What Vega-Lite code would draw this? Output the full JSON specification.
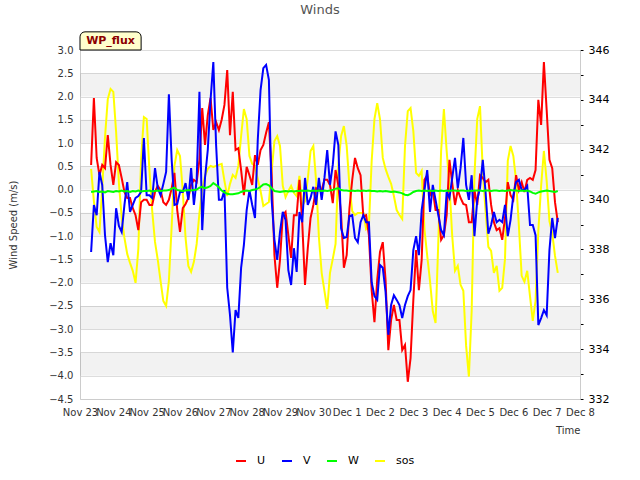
{
  "$schema": "https://vega.github.io/schema/vega-lite/v6.json",
  "width": 500,
  "height": 349,
  "autosize": {"type": "none"},
  "padding": {"left": 80, "top": 50, "right": 60, "bottom": 81},
  "title": {"text": "Winds", "anchor": "middle", "frame": "group", "dx": -10, "offset": 14, "fontSize": 13, "fontWeight": "normal", "color": "#555555", "font": "DejaVu Sans"},
  "config": {
    "view": {"stroke": null},
    "font": "DejaVu Sans",
    "axis": {"labelFont": "DejaVu Sans", "titleFont": "DejaVu Sans", "labelFontSize": 10, "titleFontSize": 10, "labelColor": "#333333", "titleColor": "#333333", "domainColor": "#cccccc", "gridColor": "#dddddd", "titleFontWeight": "normal"},
    "axisX": {"tickCount": {"interval": "day", "step": 1}, "format": "%b %-d", "ticks": false, "grid": false, "labelFlush": false, "labelOverlap": false, "labelPadding": 8, "titleAlign": "right", "titleX": 500, "titleY": 26, "titleBaseline": "top"}
  },
  "datasets": {
    "winds": [
      {"t": "2023-11-23T08:00", "U": 0.53, "V": -1.34, "W": -0.05, "sos": 341.23},
      {"t": "2023-11-23T10:00", "U": 1.97, "V": -0.33, "W": -0.04, "sos": 339.94},
      {"t": "2023-11-23T12:00", "U": 0.68, "V": -0.55, "W": -0.03, "sos": 338.90},
      {"t": "2023-11-23T14:00", "U": 0.31, "V": 0.38, "W": -0.05, "sos": 338.70},
      {"t": "2023-11-23T16:00", "U": 0.53, "V": 0.10, "W": -0.04, "sos": 340.47},
      {"t": "2023-11-23T18:00", "U": 0.46, "V": -0.98, "W": -0.06, "sos": 342.50},
      {"t": "2023-11-23T20:00", "U": 1.17, "V": -1.56, "W": -0.03, "sos": 344.03},
      {"t": "2023-11-23T22:00", "U": 0.53, "V": -1.15, "W": -0.04, "sos": 344.44},
      {"t": "2023-11-24T00:00", "U": 0.10, "V": -1.41, "W": -0.05, "sos": 344.32},
      {"t": "2023-11-24T02:00", "U": 0.59, "V": -0.40, "W": -0.03, "sos": 342.71},
      {"t": "2023-11-24T04:00", "U": 0.53, "V": -0.78, "W": -0.04, "sos": 340.67},
      {"t": "2023-11-24T06:00", "U": 0.25, "V": -0.91, "W": -0.02, "sos": 339.30},
      {"t": "2023-11-24T08:00", "U": -0.05, "V": -0.33, "W": -0.04, "sos": 338.46},
      {"t": "2023-11-24T10:00", "U": -0.18, "V": 0.16, "W": -0.03, "sos": 337.82},
      {"t": "2023-11-24T12:00", "U": -0.18, "V": -0.48, "W": -0.05, "sos": 337.46},
      {"t": "2023-11-24T14:00", "U": -0.40, "V": -0.33, "W": -0.03, "sos": 337.14},
      {"t": "2023-11-24T16:00", "U": -0.55, "V": -0.18, "W": -0.04, "sos": 336.66},
      {"t": "2023-11-24T18:00", "U": -0.87, "V": -0.14, "W": -0.02, "sos": 338.02},
      {"t": "2023-11-24T20:00", "U": -0.27, "V": -0.05, "W": -0.04, "sos": 341.63},
      {"t": "2023-11-24T22:00", "U": -0.22, "V": 1.11, "W": -0.03, "sos": 343.31},
      {"t": "2023-11-25T00:00", "U": -0.22, "V": -0.12, "W": -0.03, "sos": 343.23},
      {"t": "2023-11-25T02:00", "U": -0.33, "V": -0.12, "W": -0.02, "sos": 341.15},
      {"t": "2023-11-25T04:00", "U": -0.33, "V": -0.18, "W": -0.04, "sos": 339.54},
      {"t": "2023-11-25T06:00", "U": -0.05, "V": 0.46, "W": -0.03, "sos": 338.30},
      {"t": "2023-11-25T08:00", "U": 0.08, "V": 0.03, "W": -0.02, "sos": 337.58},
      {"t": "2023-11-25T10:00", "U": -0.01, "V": -0.12, "W": -0.03, "sos": 336.74},
      {"t": "2023-11-25T12:00", "U": -0.27, "V": 0.12, "W": -0.02, "sos": 335.93},
      {"t": "2023-11-25T14:00", "U": -0.33, "V": 0.38, "W": -0.02, "sos": 335.73},
      {"t": "2023-11-25T16:00", "U": -0.22, "V": 2.05, "W": -0.01, "sos": 336.74},
      {"t": "2023-11-25T18:00", "U": 0.03, "V": 0.64, "W": 0.02, "sos": 338.94},
      {"t": "2023-11-25T20:00", "U": 0.36, "V": -0.33, "W": 0.04, "sos": 341.35},
      {"t": "2023-11-25T22:00", "U": -0.44, "V": -0.31, "W": -0.01, "sos": 341.99},
      {"t": "2023-11-26T00:00", "U": -0.91, "V": -0.05, "W": -0.02, "sos": 341.75},
      {"t": "2023-11-26T02:00", "U": -0.40, "V": -0.05, "W": -0.03, "sos": 340.35},
      {"t": "2023-11-26T04:00", "U": -0.31, "V": 0.14, "W": -0.02, "sos": 338.46},
      {"t": "2023-11-26T06:00", "U": -0.18, "V": -0.22, "W": -0.01, "sos": 337.34},
      {"t": "2023-11-26T08:00", "U": 0.10, "V": 0.46, "W": -0.02, "sos": 337.10},
      {"t": "2023-11-26T10:00", "U": 0.21, "V": -0.33, "W": -0.01, "sos": 337.50},
      {"t": "2023-11-26T12:00", "U": 0.16, "V": 0.21, "W": 0.00, "sos": 338.22},
      {"t": "2023-11-26T14:00", "U": 0.64, "V": 2.10, "W": 0.04, "sos": 339.46},
      {"t": "2023-11-26T16:00", "U": 1.75, "V": -0.87, "W": 0.06, "sos": 340.43},
      {"t": "2023-11-26T18:00", "U": 0.96, "V": 0.25, "W": 0.03, "sos": 340.95},
      {"t": "2023-11-26T20:00", "U": 1.60, "V": 0.85, "W": 0.05, "sos": 341.23},
      {"t": "2023-11-26T22:00", "U": 1.97, "V": 1.93, "W": 0.08, "sos": 341.35},
      {"t": "2023-11-27T00:00", "U": 1.28, "V": 2.74, "W": 0.14, "sos": 341.31},
      {"t": "2023-11-27T02:00", "U": 1.45, "V": 0.96, "W": 0.10, "sos": 341.35},
      {"t": "2023-11-27T04:00", "U": 1.28, "V": -0.22, "W": 0.05, "sos": 341.39},
      {"t": "2023-11-27T06:00", "U": 1.50, "V": -0.22, "W": -0.02, "sos": 341.43},
      {"t": "2023-11-27T08:00", "U": 1.82, "V": -0.01, "W": -0.06, "sos": 340.75},
      {"t": "2023-11-27T10:00", "U": 2.57, "V": -2.11, "W": -0.09, "sos": 340.14},
      {"t": "2023-11-27T12:00", "U": 1.17, "V": -2.70, "W": -0.10, "sos": 340.63},
      {"t": "2023-11-27T14:00", "U": 2.10, "V": -3.50, "W": -0.10, "sos": 340.99},
      {"t": "2023-11-27T16:00", "U": 0.85, "V": -2.59, "W": -0.09, "sos": 340.87},
      {"t": "2023-11-27T18:00", "U": 0.89, "V": -2.76, "W": -0.08, "sos": 341.35},
      {"t": "2023-11-27T20:00", "U": 0.42, "V": -1.68, "W": -0.05, "sos": 342.55},
      {"t": "2023-11-27T22:00", "U": -0.12, "V": -1.19, "W": -0.03, "sos": 343.63},
      {"t": "2023-11-28T00:00", "U": 0.49, "V": -0.44, "W": -0.02, "sos": 343.23},
      {"t": "2023-11-28T02:00", "U": 0.31, "V": -0.01, "W": -0.03, "sos": 341.75},
      {"t": "2023-11-28T04:00", "U": 0.10, "V": -0.33, "W": -0.01, "sos": 341.43},
      {"t": "2023-11-28T06:00", "U": 0.74, "V": -0.61, "W": 0.00, "sos": 341.35},
      {"t": "2023-11-28T08:00", "U": 0.53, "V": 1.07, "W": 0.02, "sos": 340.83},
      {"t": "2023-11-28T10:00", "U": 0.85, "V": 2.14, "W": 0.06, "sos": 340.35},
      {"t": "2023-11-28T12:00", "U": 0.96, "V": 2.61, "W": 0.11, "sos": 339.74},
      {"t": "2023-11-28T14:00", "U": 1.22, "V": 2.68, "W": 0.12, "sos": 339.82},
      {"t": "2023-11-28T16:00", "U": 1.45, "V": 2.36, "W": 0.09, "sos": 339.90},
      {"t": "2023-11-28T18:00", "U": 0.31, "V": -0.22, "W": 0.03, "sos": 341.15},
      {"t": "2023-11-28T20:00", "U": -1.41, "V": -1.08, "W": -0.03, "sos": 342.35},
      {"t": "2023-11-28T22:00", "U": -2.11, "V": -1.51, "W": -0.04, "sos": 342.55},
      {"t": "2023-11-29T00:00", "U": -1.51, "V": -0.91, "W": -0.05, "sos": 342.15},
      {"t": "2023-11-29T02:00", "U": -0.55, "V": -0.48, "W": -0.04, "sos": 340.55},
      {"t": "2023-11-29T04:00", "U": -0.48, "V": -0.65, "W": -0.03, "sos": 340.10},
      {"t": "2023-11-29T06:00", "U": -0.98, "V": -1.73, "W": -0.04, "sos": 340.35},
      {"t": "2023-11-29T08:00", "U": -1.47, "V": -2.05, "W": -0.03, "sos": 340.55},
      {"t": "2023-11-29T10:00", "U": -0.55, "V": -1.26, "W": -0.04, "sos": 340.27},
      {"t": "2023-11-29T12:00", "U": -0.55, "V": -1.77, "W": -0.03, "sos": 340.14},
      {"t": "2023-11-29T14:00", "U": 0.21, "V": -0.48, "W": -0.03, "sos": 340.95},
      {"t": "2023-11-29T16:00", "U": -0.70, "V": -0.70, "W": -0.02, "sos": 339.74},
      {"t": "2023-11-29T18:00", "U": -2.05, "V": 0.25, "W": -0.03, "sos": 339.94},
      {"t": "2023-11-29T20:00", "U": -1.26, "V": -0.33, "W": -0.02, "sos": 340.83},
      {"t": "2023-11-29T22:00", "U": -0.61, "V": -0.18, "W": -0.03, "sos": 341.95},
      {"t": "2023-11-30T00:00", "U": -0.33, "V": 0.06, "W": -0.02, "sos": 342.15},
      {"t": "2023-11-30T02:00", "U": 0.03, "V": -0.33, "W": -0.03, "sos": 340.75},
      {"t": "2023-11-30T04:00", "U": -0.01, "V": 0.25, "W": -0.02, "sos": 338.50},
      {"t": "2023-11-30T06:00", "U": -0.01, "V": -0.22, "W": -0.03, "sos": 337.06},
      {"t": "2023-11-30T08:00", "U": 0.21, "V": 0.25, "W": -0.02, "sos": 336.34},
      {"t": "2023-11-30T10:00", "U": 0.21, "V": 0.85, "W": -0.03, "sos": 335.61},
      {"t": "2023-11-30T12:00", "U": 0.10, "V": 0.10, "W": -0.02, "sos": 337.06},
      {"t": "2023-11-30T14:00", "U": -0.29, "V": 0.53, "W": -0.01, "sos": 337.62},
      {"t": "2023-11-30T16:00", "U": 0.42, "V": 1.25, "W": 0.02, "sos": 338.22},
      {"t": "2023-11-30T18:00", "U": 0.10, "V": 0.96, "W": 0.03, "sos": 341.35},
      {"t": "2023-11-30T20:00", "U": -0.55, "V": -0.83, "W": -0.01, "sos": 342.55},
      {"t": "2023-11-30T22:00", "U": -1.68, "V": -1.04, "W": -0.02, "sos": 342.95},
      {"t": "2023-12-01T00:00", "U": -1.41, "V": -1.02, "W": -0.02, "sos": 342.15},
      {"t": "2023-12-01T02:00", "U": -0.40, "V": -0.57, "W": -0.03, "sos": 340.55},
      {"t": "2023-12-01T04:00", "U": 0.21, "V": -0.55, "W": -0.02, "sos": 339.54},
      {"t": "2023-12-01T06:00", "U": 0.68, "V": -1.04, "W": -0.03, "sos": 339.38},
      {"t": "2023-12-01T08:00", "U": 0.46, "V": -1.13, "W": -0.02, "sos": 339.46},
      {"t": "2023-12-01T10:00", "U": 0.31, "V": -0.70, "W": -0.03, "sos": 339.46},
      {"t": "2023-12-01T12:00", "U": -0.57, "V": -0.55, "W": -0.02, "sos": 339.46},
      {"t": "2023-12-01T14:00", "U": -0.55, "V": -0.70, "W": -0.03, "sos": 338.82},
      {"t": "2023-12-01T16:00", "U": -0.98, "V": -0.70, "W": -0.02, "sos": 338.94},
      {"t": "2023-12-01T18:00", "U": -2.16, "V": -1.99, "W": -0.03, "sos": 341.55},
      {"t": "2023-12-01T20:00", "U": -2.85, "V": -2.29, "W": -0.03, "sos": 343.23},
      {"t": "2023-12-01T22:00", "U": -1.94, "V": -2.37, "W": -0.04, "sos": 343.87},
      {"t": "2023-12-02T00:00", "U": -1.34, "V": -1.62, "W": -0.03, "sos": 343.23},
      {"t": "2023-12-02T02:00", "U": -1.13, "V": -1.68, "W": -0.04, "sos": 341.67},
      {"t": "2023-12-02T04:00", "U": -1.94, "V": -2.20, "W": -0.03, "sos": 341.23},
      {"t": "2023-12-02T06:00", "U": -3.45, "V": -3.12, "W": -0.04, "sos": 340.91},
      {"t": "2023-12-02T08:00", "U": -2.80, "V": -2.48, "W": -0.05, "sos": 340.63},
      {"t": "2023-12-02T10:00", "U": -2.48, "V": -2.27, "W": -0.04, "sos": 340.14},
      {"t": "2023-12-02T12:00", "U": -2.80, "V": -2.37, "W": -0.05, "sos": 339.58},
      {"t": "2023-12-02T14:00", "U": -2.80, "V": -2.48, "W": -0.06, "sos": 339.38},
      {"t": "2023-12-02T16:00", "U": -3.45, "V": -2.76, "W": -0.08, "sos": 339.22},
      {"t": "2023-12-02T18:00", "U": -3.34, "V": -2.48, "W": -0.11, "sos": 342.15},
      {"t": "2023-12-02T20:00", "U": -4.13, "V": -2.29, "W": -0.12, "sos": 343.55},
      {"t": "2023-12-02T22:00", "U": -3.62, "V": -2.16, "W": -0.09, "sos": 343.67},
      {"t": "2023-12-03T00:00", "U": -2.37, "V": -1.30, "W": -0.05, "sos": 342.75},
      {"t": "2023-12-03T02:00", "U": -1.30, "V": -1.00, "W": -0.03, "sos": 341.07},
      {"t": "2023-12-03T04:00", "U": -2.16, "V": -1.41, "W": -0.02, "sos": 340.95},
      {"t": "2023-12-03T06:00", "U": -1.51, "V": -0.44, "W": -0.03, "sos": 341.15},
      {"t": "2023-12-03T08:00", "U": 0.21, "V": -0.01, "W": -0.02, "sos": 338.82},
      {"t": "2023-12-03T10:00", "U": 0.31, "V": 0.42, "W": -0.03, "sos": 337.74},
      {"t": "2023-12-03T12:00", "U": -0.12, "V": -0.48, "W": -0.02, "sos": 336.74},
      {"t": "2023-12-03T14:00", "U": -0.01, "V": 0.10, "W": -0.03, "sos": 335.53},
      {"t": "2023-12-03T16:00", "U": -0.44, "V": -0.22, "W": -0.02, "sos": 335.05},
      {"t": "2023-12-03T18:00", "U": -0.44, "V": -0.55, "W": -0.03, "sos": 338.34},
      {"t": "2023-12-03T20:00", "U": -1.08, "V": -0.87, "W": -0.02, "sos": 341.95},
      {"t": "2023-12-03T22:00", "U": -0.98, "V": -0.98, "W": -0.03, "sos": 343.63},
      {"t": "2023-12-04T00:00", "U": -0.55, "V": -0.05, "W": -0.02, "sos": 341.95},
      {"t": "2023-12-04T02:00", "U": 0.64, "V": -0.18, "W": -0.03, "sos": 340.55},
      {"t": "2023-12-04T04:00", "U": 0.14, "V": 0.25, "W": -0.02, "sos": 338.54},
      {"t": "2023-12-04T06:00", "U": -0.33, "V": 0.68, "W": -0.02, "sos": 337.14},
      {"t": "2023-12-04T08:00", "U": -0.01, "V": 0.03, "W": -0.03, "sos": 337.34},
      {"t": "2023-12-04T10:00", "U": -0.18, "V": 0.46, "W": -0.02, "sos": 336.58},
      {"t": "2023-12-04T12:00", "U": -0.31, "V": 1.11, "W": -0.02, "sos": 336.34},
      {"t": "2023-12-04T14:00", "U": -0.33, "V": 0.10, "W": -0.03, "sos": 334.13},
      {"t": "2023-12-04T16:00", "U": -0.70, "V": -0.22, "W": -0.02, "sos": 332.90},
      {"t": "2023-12-04T18:00", "U": -0.70, "V": 0.31, "W": -0.03, "sos": 335.53},
      {"t": "2023-12-04T20:00", "U": -0.01, "V": -1.00, "W": -0.02, "sos": 340.95},
      {"t": "2023-12-04T22:00", "U": -0.33, "V": -0.22, "W": -0.02, "sos": 343.23},
      {"t": "2023-12-05T00:00", "U": 0.31, "V": 0.03, "W": -0.02, "sos": 343.75},
      {"t": "2023-12-05T02:00", "U": 0.25, "V": 0.64, "W": -0.03, "sos": 341.15},
      {"t": "2023-12-05T04:00", "U": 0.16, "V": -0.05, "W": -0.02, "sos": 339.54},
      {"t": "2023-12-05T06:00", "U": 0.21, "V": -0.95, "W": -0.02, "sos": 338.10},
      {"t": "2023-12-05T08:00", "U": -0.33, "V": -0.76, "W": -0.03, "sos": 337.94},
      {"t": "2023-12-05T10:00", "U": -0.70, "V": -0.48, "W": -0.02, "sos": 337.06},
      {"t": "2023-12-05T12:00", "U": -0.87, "V": -0.70, "W": -0.02, "sos": 337.34},
      {"t": "2023-12-05T14:00", "U": -0.83, "V": -0.65, "W": -0.03, "sos": 336.34},
      {"t": "2023-12-05T16:00", "U": -1.08, "V": -0.70, "W": -0.02, "sos": 336.46},
      {"t": "2023-12-05T18:00", "U": -0.61, "V": -0.33, "W": -0.03, "sos": 337.62},
      {"t": "2023-12-05T20:00", "U": 0.16, "V": -1.00, "W": -0.02, "sos": 341.55},
      {"t": "2023-12-05T22:00", "U": -0.12, "V": -0.65, "W": -0.01, "sos": 342.15},
      {"t": "2023-12-06T00:00", "U": -0.22, "V": -0.12, "W": -0.02, "sos": 341.75},
      {"t": "2023-12-06T02:00", "U": 0.31, "V": 0.16, "W": -0.02, "sos": 340.75},
      {"t": "2023-12-06T04:00", "U": -0.01, "V": 0.21, "W": -0.03, "sos": 338.94},
      {"t": "2023-12-06T06:00", "U": 0.16, "V": -0.01, "W": -0.02, "sos": 336.94},
      {"t": "2023-12-06T08:00", "U": -0.05, "V": -0.01, "W": -0.03, "sos": 336.70},
      {"t": "2023-12-06T10:00", "U": 0.21, "V": 0.08, "W": -0.02, "sos": 337.14},
      {"t": "2023-12-06T12:00", "U": 0.25, "V": -0.76, "W": -0.04, "sos": 336.13},
      {"t": "2023-12-06T14:00", "U": 0.21, "V": -0.76, "W": -0.07, "sos": 335.13},
      {"t": "2023-12-06T16:00", "U": 0.42, "V": -0.98, "W": -0.09, "sos": 335.93},
      {"t": "2023-12-06T18:00", "U": 1.93, "V": -2.91, "W": -0.06, "sos": 338.74},
      {"t": "2023-12-06T20:00", "U": 1.39, "V": -2.76, "W": -0.04, "sos": 340.55},
      {"t": "2023-12-06T22:00", "U": 2.74, "V": -2.59, "W": -0.03, "sos": 341.95},
      {"t": "2023-12-07T00:00", "U": 1.71, "V": -2.70, "W": -0.02, "sos": 340.75},
      {"t": "2023-12-07T02:00", "U": 0.64, "V": -1.30, "W": -0.03, "sos": 339.14},
      {"t": "2023-12-07T04:00", "U": 0.46, "V": -0.61, "W": -0.04, "sos": 338.66},
      {"t": "2023-12-07T06:00", "U": -0.27, "V": -1.04, "W": -0.05, "sos": 337.74},
      {"t": "2023-12-07T08:00", "U": -0.70, "V": -0.61, "W": -0.03, "sos": 337.06}
    ],
    "bands": [
      {"lo": 2.0, "hi": 2.5},
      {"lo": 1.0, "hi": 1.5},
      {"lo": 0.0, "hi": 0.5},
      {"lo": -1.0, "hi": -0.5},
      {"lo": -2.0, "hi": -1.5},
      {"lo": -3.0, "hi": -2.5},
      {"lo": -4.0, "hi": -3.5}
    ],
    "label": [
      {"name": "WP_flux"}
    ]
  },
  "layer": [
    {
      "data": {"name": "bands"},
      "mark": {"type": "rect", "fill": "#000000", "fillOpacity": 0.05},
      "encoding": {
        "y": {"field": "lo", "type": "quantitative", "scale": {"domain": [-4.5, 3.0], "nice": false, "zero": false}, "axis": null},
        "y2": {"field": "hi"}
      }
    },
    {
      "data": {"name": "winds"},
      "transform": [{"fold": ["sos"], "as": ["series", "value"]}],
      "mark": {"type": "line", "strokeWidth": 2},
      "encoding": {
        "x": {"field": "t", "type": "temporal", "title": "Time", "scale": {"domain": [{"year": 2023, "month": 11, "date": 23}, {"year": 2023, "month": 12, "date": 8}]}},
        "y": {"field": "value", "type": "quantitative", "scale": {"domain": [332, 346], "nice": false, "zero": false},
              "axis": {"orient": "right", "title": null, "values": [332, 333, 334, 335, 336, 337, 338, 339, 340, 341, 342, 343, 344, 345, 346], "labelExpr": "datum.value % 2 === 0 ? datum.label : ''", "labelOverlap": false, "grid": false, "ticks": true, "tickSize": 3, "tickColor": "#000000", "labelColor": "#000000", "labelFontSize": 11, "labelPadding": 5}},
        "color": {"field": "series", "type": "nominal", "scale": {"domain": ["U", "V", "W", "sos"], "range": ["#ff0000", "#0000ff", "#00ff00", "#ffff00"]},
                  "legend": {"orient": "none", "legendX": 155, "legendY": 405, "direction": "horizontal", "title": null, "symbolType": "stroke", "symbolStrokeWidth": 2, "symbolSize": 100, "labelFontSize": 11, "labelFont": "DejaVu Sans", "labelColor": "#000000", "columnPadding": 12, "labelOffset": 10}}
      }
    },
    {
      "data": {"name": "winds"},
      "transform": [{"fold": ["U", "V", "W"], "as": ["series", "value"]}],
      "mark": {"type": "line", "strokeWidth": 2},
      "encoding": {
        "x": {"field": "t", "type": "temporal", "title": "Time", "scale": {"domain": [{"year": 2023, "month": 11, "date": 23}, {"year": 2023, "month": 12, "date": 8}]}},
        "y": {"field": "value", "type": "quantitative", "scale": {"domain": [-4.5, 3.0], "nice": false, "zero": false},
              "axis": {"title": "Wind Speed (m/s)", "values": [-4.5, -4.0, -3.5, -3.0, -2.5, -2.0, -1.5, -1.0, -0.5, 0.0, 0.5, 1.0, 1.5, 2.0, 2.5, 3.0], "format": ".1f", "ticks": false, "grid": true, "labelPadding": 7, "titleX": -62, "titleY": 174.5, "titleAngle": -90, "labelOverlap": false}},
        "color": {"field": "series", "type": "nominal", "scale": {"domain": ["U", "V", "W", "sos"], "range": ["#ff0000", "#0000ff", "#00ff00", "#ffff00"]},
                  "legend": {"orient": "none", "legendX": 155, "legendY": 405, "direction": "horizontal", "title": null, "symbolType": "stroke", "symbolStrokeWidth": 2, "symbolSize": 100, "labelFontSize": 11, "labelFont": "DejaVu Sans", "labelColor": "#000000", "columnPadding": 12, "labelOffset": 10}}
      }
    },
    {
      "data": {"name": "label"},
      "layer": [
        {
          "mark": {"type": "rect", "fill": "#ffffcc", "stroke": "#000000", "strokeWidth": 1, "cornerRadiusTopLeft": 5, "cornerRadiusTopRight": 5, "clip": false},
          "encoding": {
            "x": {"datum": {"year": 2023, "month": 11, "date": 23}, "type": "temporal", "title": "Time"},
            "x2": {"datum": {"year": 2023, "month": 11, "date": 24, "hours": 20}},
            "y": {"datum": 3.0, "type": "quantitative", "scale": {"domain": [-4.5, 3.0], "nice": false, "zero": false}, "axis": null},
            "y2": {"datum": 3.39}
          }
        },
        {
          "mark": {"type": "text", "fontWeight": "bold", "fontSize": 11, "color": "#8b0000", "font": "DejaVu Sans", "baseline": "middle", "align": "center", "clip": false},
          "encoding": {
            "text": {"field": "name", "type": "nominal"},
            "x": {"datum": {"year": 2023, "month": 11, "date": 23, "hours": 22}, "type": "temporal", "title": "Time"},
            "y": {"datum": 3.19, "type": "quantitative", "scale": {"domain": [-4.5, 3.0], "nice": false, "zero": false}, "axis": null}
          }
        }
      ]
    }
  ],
  "resolve": {"scale": {"y": "independent"}, "axis": {"y": "independent"}}
}
